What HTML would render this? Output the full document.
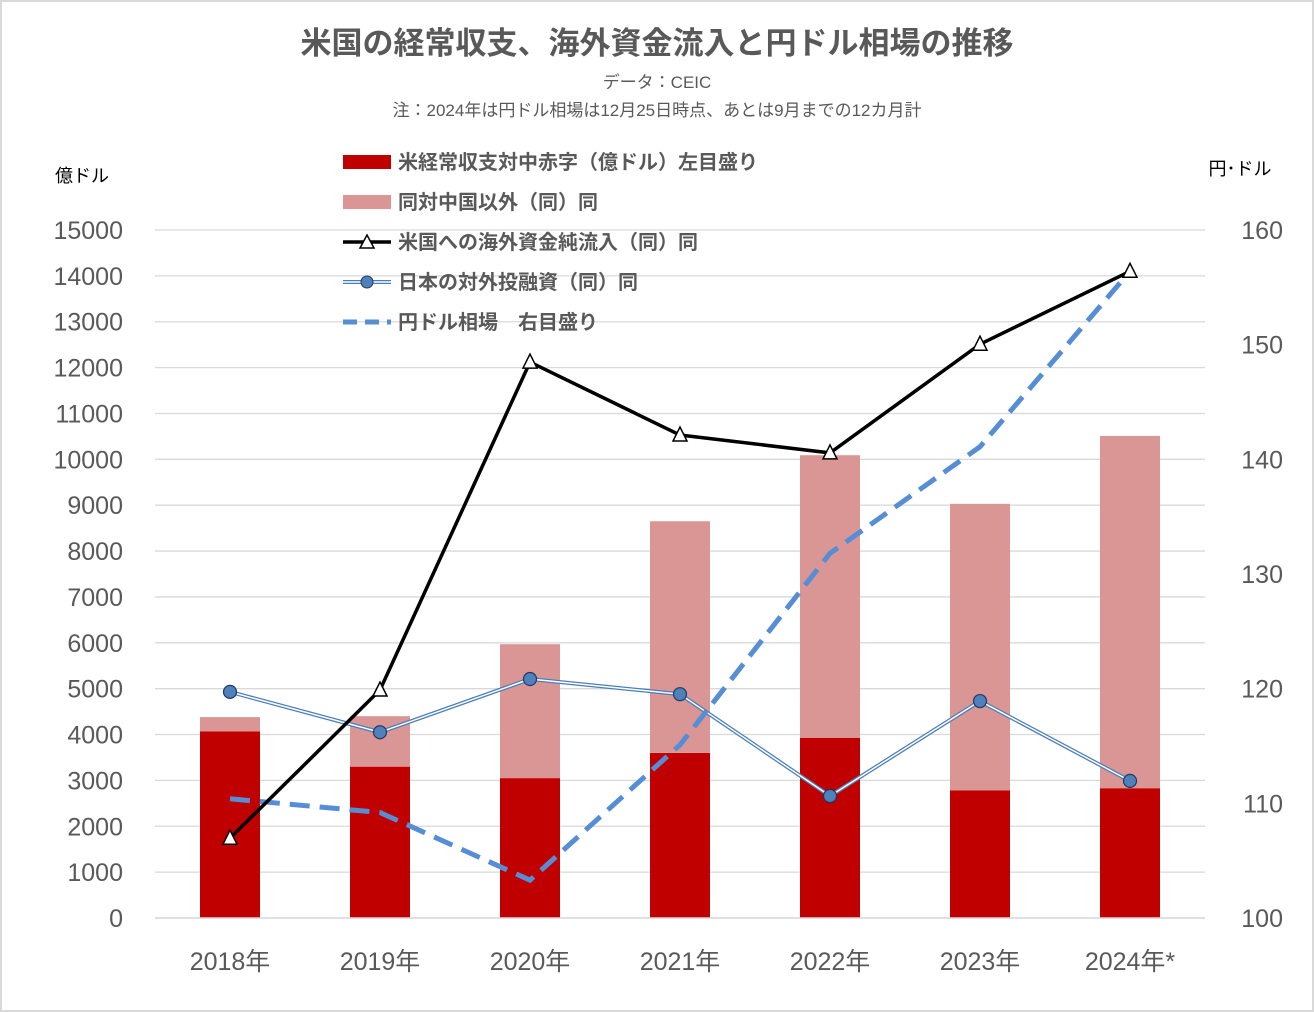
<!DOCTYPE html>
<html><head><meta charset="utf-8">
<style>
body{margin:0;background:#fff;}
svg{display:block;font-family:"Liberation Sans","Noto Sans CJK JP",sans-serif;}
</style></head>
<body>
<svg id="chart" width="1314" height="1012" viewBox="0 0 1314 1012">
<rect x="1" y="1" width="1312" height="1010" fill="#fff" stroke="#d9d9d9" stroke-width="2"/>
<text x="657" y="54" text-anchor="middle" font-size="31" font-weight="bold" fill="#595959">米国の経常収支、海外資金流入と円ドル相場の推移</text>
<text x="657" y="88" text-anchor="middle" font-size="17" fill="#595959">データ：CEIC</text>
<text x="657" y="116" text-anchor="middle" font-size="17" fill="#595959">注：2024年は円ドル相場は12月25日時点、あとは9月までの12カ月計</text>
<text x="82" y="182" text-anchor="middle" font-size="18" fill="#000">億ドル</text>
<text x="1240" y="175" text-anchor="middle" font-size="18" fill="#000">円･ドル</text>
<g id="grid"></g><g id="bars"></g><g id="lines"></g><g id="axes"></g>
<g font-size="20" font-weight="bold" fill="#595959">
<rect x="343" y="155" width="48" height="14" fill="#c00000"/>
<text x="398" y="169">米経常収支対中赤字（億ドル）左目盛り</text>
<rect x="343" y="195" width="48" height="14" fill="#da9694"/>
<text x="398" y="209">同対中国以外（同）同</text>
<line x1="343" y1="242" x2="391" y2="242" stroke="#000" stroke-width="3.5"/>
<path d="M367,235 L374,248 L360,248 Z" fill="#fff" stroke="#000" stroke-width="1.5"/>
<text x="398" y="249">米国への海外資金純流入（同）同</text>
<line x1="343" y1="282" x2="391" y2="282" stroke="#4a7ebb" stroke-width="4"/>
<line x1="343" y1="282" x2="391" y2="282" stroke="#fff" stroke-width="1.5"/>
<circle cx="367" cy="282" r="6" fill="#4f81bd" stroke="#1f3a60" stroke-width="1"/>
<text x="398" y="289">日本の対外投融資（同）同</text>
<line x1="343" y1="322" x2="391" y2="322" stroke="#558ed5" stroke-width="5" stroke-dasharray="14,8"/>
<text x="398" y="329">円ドル相場　右目盛り</text>
</g>
</svg>
<script>
const categories=["2018年","2019年","2020年","2021年","2022年","2023年","2024年*"];
const chinaDeficit=[4070,3300,3050,3600,3930,2780,2830];
const otherDeficit=[310,1100,2920,5050,6160,6250,7680];
const netInflow=[1740,4970,12120,10530,10140,12510,14100];
const japanInvest=[4930,4050,5210,4880,2660,4730,2990];
const yenRate=[110.4,109.2,103.3,115.1,131.8,141.1,156.4];
const leftTicks=[0,1000,2000,3000,4000,5000,6000,7000,8000,9000,10000,11000,12000,13000,14000,15000];
const rightTicks=[100,110,120,130,140,150,160];
const NS="http://www.w3.org/2000/svg";
const X0=155,X1=1205,Y0=918,Y1=230;
const yL=v=>Y0-(v/15000)*(Y0-Y1);
const yR=v=>Y0-((v-100)/60)*(Y0-Y1);
const xC=i=>X0+(i+0.5)*(X1-X0)/categories.length;
function mk(tag,attrs,parent){const e=document.createElementNS(NS,tag);for(const k in attrs)e.setAttribute(k,attrs[k]);parent.appendChild(e);return e;}
const grid=document.getElementById('grid'),bars=document.getElementById('bars'),lines=document.getElementById('lines'),axes=document.getElementById('axes');
leftTicks.forEach(t=>{
 const l=mk('line',{x1:X0,x2:X1,y1:yL(t),y2:yL(t),stroke:'#d9d9d9','stroke-width':1.3},grid);
 
 
 const tx=mk('text',{x:123,y:yL(t)+9,'text-anchor':'end','font-size':25,fill:'#595959'},axes);
 tx.textContent=t;
 
 
});
rightTicks.forEach(t=>{
 const tx=mk('text',{x:1283,y:yR(t)+9,'text-anchor':'end','font-size':25,fill:'#595959'},axes);
 tx.textContent=t;
 
 
});
categories.forEach((c,i)=>{
 const tx=mk('text',{x:xC(i),y:970,'text-anchor':'middle','font-size':25,fill:'#595959'},axes);
 tx.textContent=c;
 
 
 const b1=mk('rect',{x:xC(i)-30,width:60,y:yL(chinaDeficit[i]),height:Y0-yL(chinaDeficit[i]),fill:'#c00000'},bars);
 
 
 const top=chinaDeficit[i]+otherDeficit[i];
 const b2=mk('rect',{x:xC(i)-30,width:60,y:yL(top),height:yL(chinaDeficit[i])-yL(top),fill:'#da9694'},bars);
 
 
});
mk('line',{x1:X0,x2:X1,y1:Y0,y2:Y0,stroke:'#d9d9d9','stroke-width':1.5},axes);
const pts=(arr,f)=>arr.map((v,i)=>xC(i)+','+f(v)).join(' ');
const jp=pts(japanInvest,yL);
const j1=mk('polyline',{points:jp,fill:'none',stroke:'#4a7ebb','stroke-width':4},lines);


mk('polyline',{points:jp,fill:'none',stroke:'#fff','stroke-width':1.5},lines);
const yl=mk('polyline',{points:pts(yenRate,yR),fill:'none',stroke:'#558ed5','stroke-width':5,'stroke-dasharray':'20,10'},lines);


const nl=mk('polyline',{points:pts(netInflow,yL),fill:'none',stroke:'#000','stroke-width':3.5},lines);


japanInvest.forEach((v,i)=>{
 const c=mk('circle',{cx:xC(i),cy:yL(v),r:6.5,fill:'#4f81bd',stroke:'#1f3a60','stroke-width':1.2},lines);
 
 
});
netInflow.forEach((v,i)=>{
 const x=xC(i),y=yL(v);
 const p=mk('path',{d:`M${x},${y-8} L${x+7},${y+6} L${x-7},${y+6} Z`,fill:'#fff',stroke:'#000','stroke-width':1.5},lines);
 
 
});
</script>
</body></html>
